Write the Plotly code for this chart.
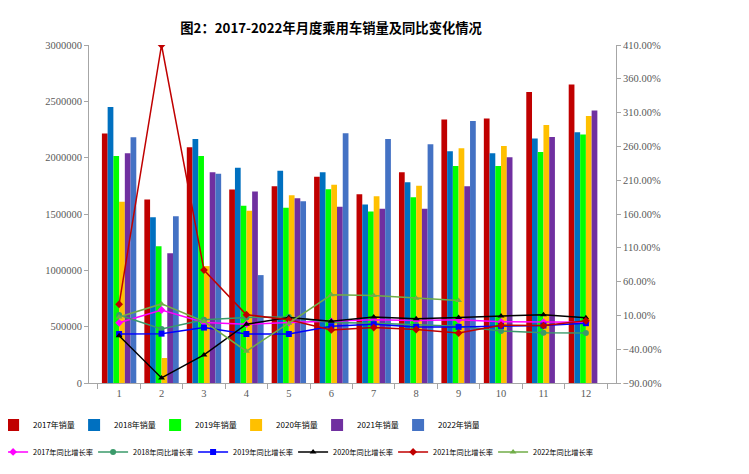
import plotly.graph_objects as go

months = [str(m) for m in range(1, 13)]
years = ["2017", "2018", "2019", "2020", "2021", "2022"]

# monthly passenger-car sales (units)
sales_2017 = [2213800, 1628600, 2092600, 1717200, 1746800, 1829600, 1675900, 1871000, 2337900, 2346800, 2583300, 2648300]
sales_2018 = [2450000, 1471900, 2166500, 1909400, 1882800, 1871000, 1584200, 1782300, 2057100, 2039400, 2169500, 2225600]
sales_2019 = [2015800, 1214800, 2015800, 1572400, 1554700, 1720200, 1522200, 1649300, 1927100, 1927100, 2051200, 2204900]
sales_2020 = [1607900, 221700, 1037400, 1528100, 1667000, 1758600, 1658100, 1749800, 2083700, 2104400, 2290600, 2370400]
sales_2021 = [2039400, 1152700, 1871000, 1699500, 1640400, 1563500, 1545800, 1545800, 1746800, 2003900, 2184200, 2417700]
sales_2022 = [2181300, 1480800, 1856200, 957600, 1613800, 2216700, 2166500, 2119200, 2326100, None, None, None]

# year-on-year growth (%)
growth_2017 = [-1, 18, -0.5, -3, -0.5, 1, 3.5, 2.5, 3.5, 0.5, 0, 0]
growth_2018 = [10.5, -10, 3.5, 7, 7.5, -0.5, -1.5, -4, -6, -13, -15.5, -16]
growth_2019 = [-17.5, -17, -8, -17.5, -17.5, -6, -3, -7, -7, -5.5, -5, -1.5]
growth_2020 = [-20, -82.5, -48.5, -3, 7, 1.5, 7.5, 5, 7, 9, 11, 6.5]
growth_2021 = [26.5, 410, 77, 11, 3.5, -11.5, -8, -11, -16, -4.5, -5, 2]
growth_2022 = [7.5, 27, 1, -43, -1.5, 40.5, 39.5, 35.5, 32, None, None, None]

sales = [sales_2017, sales_2018, sales_2019, sales_2020, sales_2021, sales_2022]
growth = [growth_2017, growth_2018, growth_2019, growth_2020, growth_2021, growth_2022]

bar_colors = ["#C00000", "#0070C0", "#00FF00", "#FFC000", "#7030A0", "#4472C4"]
line_colors = ["#FF00FF", "#3A9A6A", "#0000FF", "#000000", "#C00000", "#70AD47"]
line_symbols = ["diamond", "circle", "square", "triangle-up", "diamond", "triangle-up"]

CJK = "Noto Sans CJK SC"
SERIF = "Liberation Serif"

fig = go.Figure()
for yr, vals, col in zip(years, sales, bar_colors):
    fig.add_trace(go.Bar(x=months, y=vals, name=f"{yr}年销量", marker_color=col,
                         marker_line_width=0, legend="legend"))
for yr, vals, col, sym in zip(years, growth, line_colors, line_symbols):
    fig.add_trace(go.Scatter(x=months, y=vals, name=f"{yr}年同比增长率", yaxis="y2",
                             mode="lines+markers", line=dict(color=col, width=1.5),
                             marker=dict(symbol=sym, size=6, color=col),
                             legend="legend2"))

axis_gray = "#A6A6A6"
tick_font = dict(family=SERIF, size=10.5, color="#595959")

# page body keeps an 8px margin, so the figure is 8px smaller than the window
fig.update_layout(
    width=741, height=466, autosize=False,
    margin=dict(l=81, r=133, t=37, b=91, autoexpand=False),
    plot_bgcolor="white", paper_bgcolor="white",
    barmode="group", bargap=0.19, bargroupgap=0,
    title=dict(text="<b>图2：2017-2022年月度乘用车销量及同比变化情况</b>",
               xref="container", x=0.436, xanchor="center",
               yref="container", y=0.957, yanchor="middle",
               font=dict(family=CJK, size=13.3, color="#000000")),
    xaxis=dict(type="category", tickson="boundaries", ticks="outside", ticklen=5,
               tickcolor=axis_gray, showline=True, linecolor=axis_gray, showgrid=False,
               tickfont=tick_font),
    yaxis=dict(range=[0, 3000000], dtick=500000, tickformat="d", ticks="outside", ticklen=4,
               tickcolor=axis_gray, showline=True, linecolor=axis_gray, showgrid=False,
               zeroline=False, tickfont=tick_font),
    yaxis2=dict(overlaying="y", side="right", range=[-90, 410], tick0=-90, dtick=50,
                tickformat=".2f", ticksuffix="%", ticks="outside", ticklen=4,
                tickcolor=axis_gray, showline=True, linecolor=axis_gray, showgrid=False,
                zeroline=False, tickfont=tick_font),
    legend=dict(orientation="h", x=-0.182, xanchor="left", y=-0.124, yanchor="middle",
                entrywidth=36, entrywidthmode="pixels", traceorder="normal",
                font=dict(family=CJK, size=8, color="#000000"), bgcolor="rgba(0,0,0,0)"),
    legend2=dict(orientation="h", x=-0.182, xanchor="left", y=-0.204, yanchor="middle",
                 entrywidth=55, entrywidthmode="pixels", traceorder="normal",
                 font=dict(family=CJK, size=7.3, color="#000000"), bgcolor="rgba(0,0,0,0)"),
)

fig.write_html("out.html")
